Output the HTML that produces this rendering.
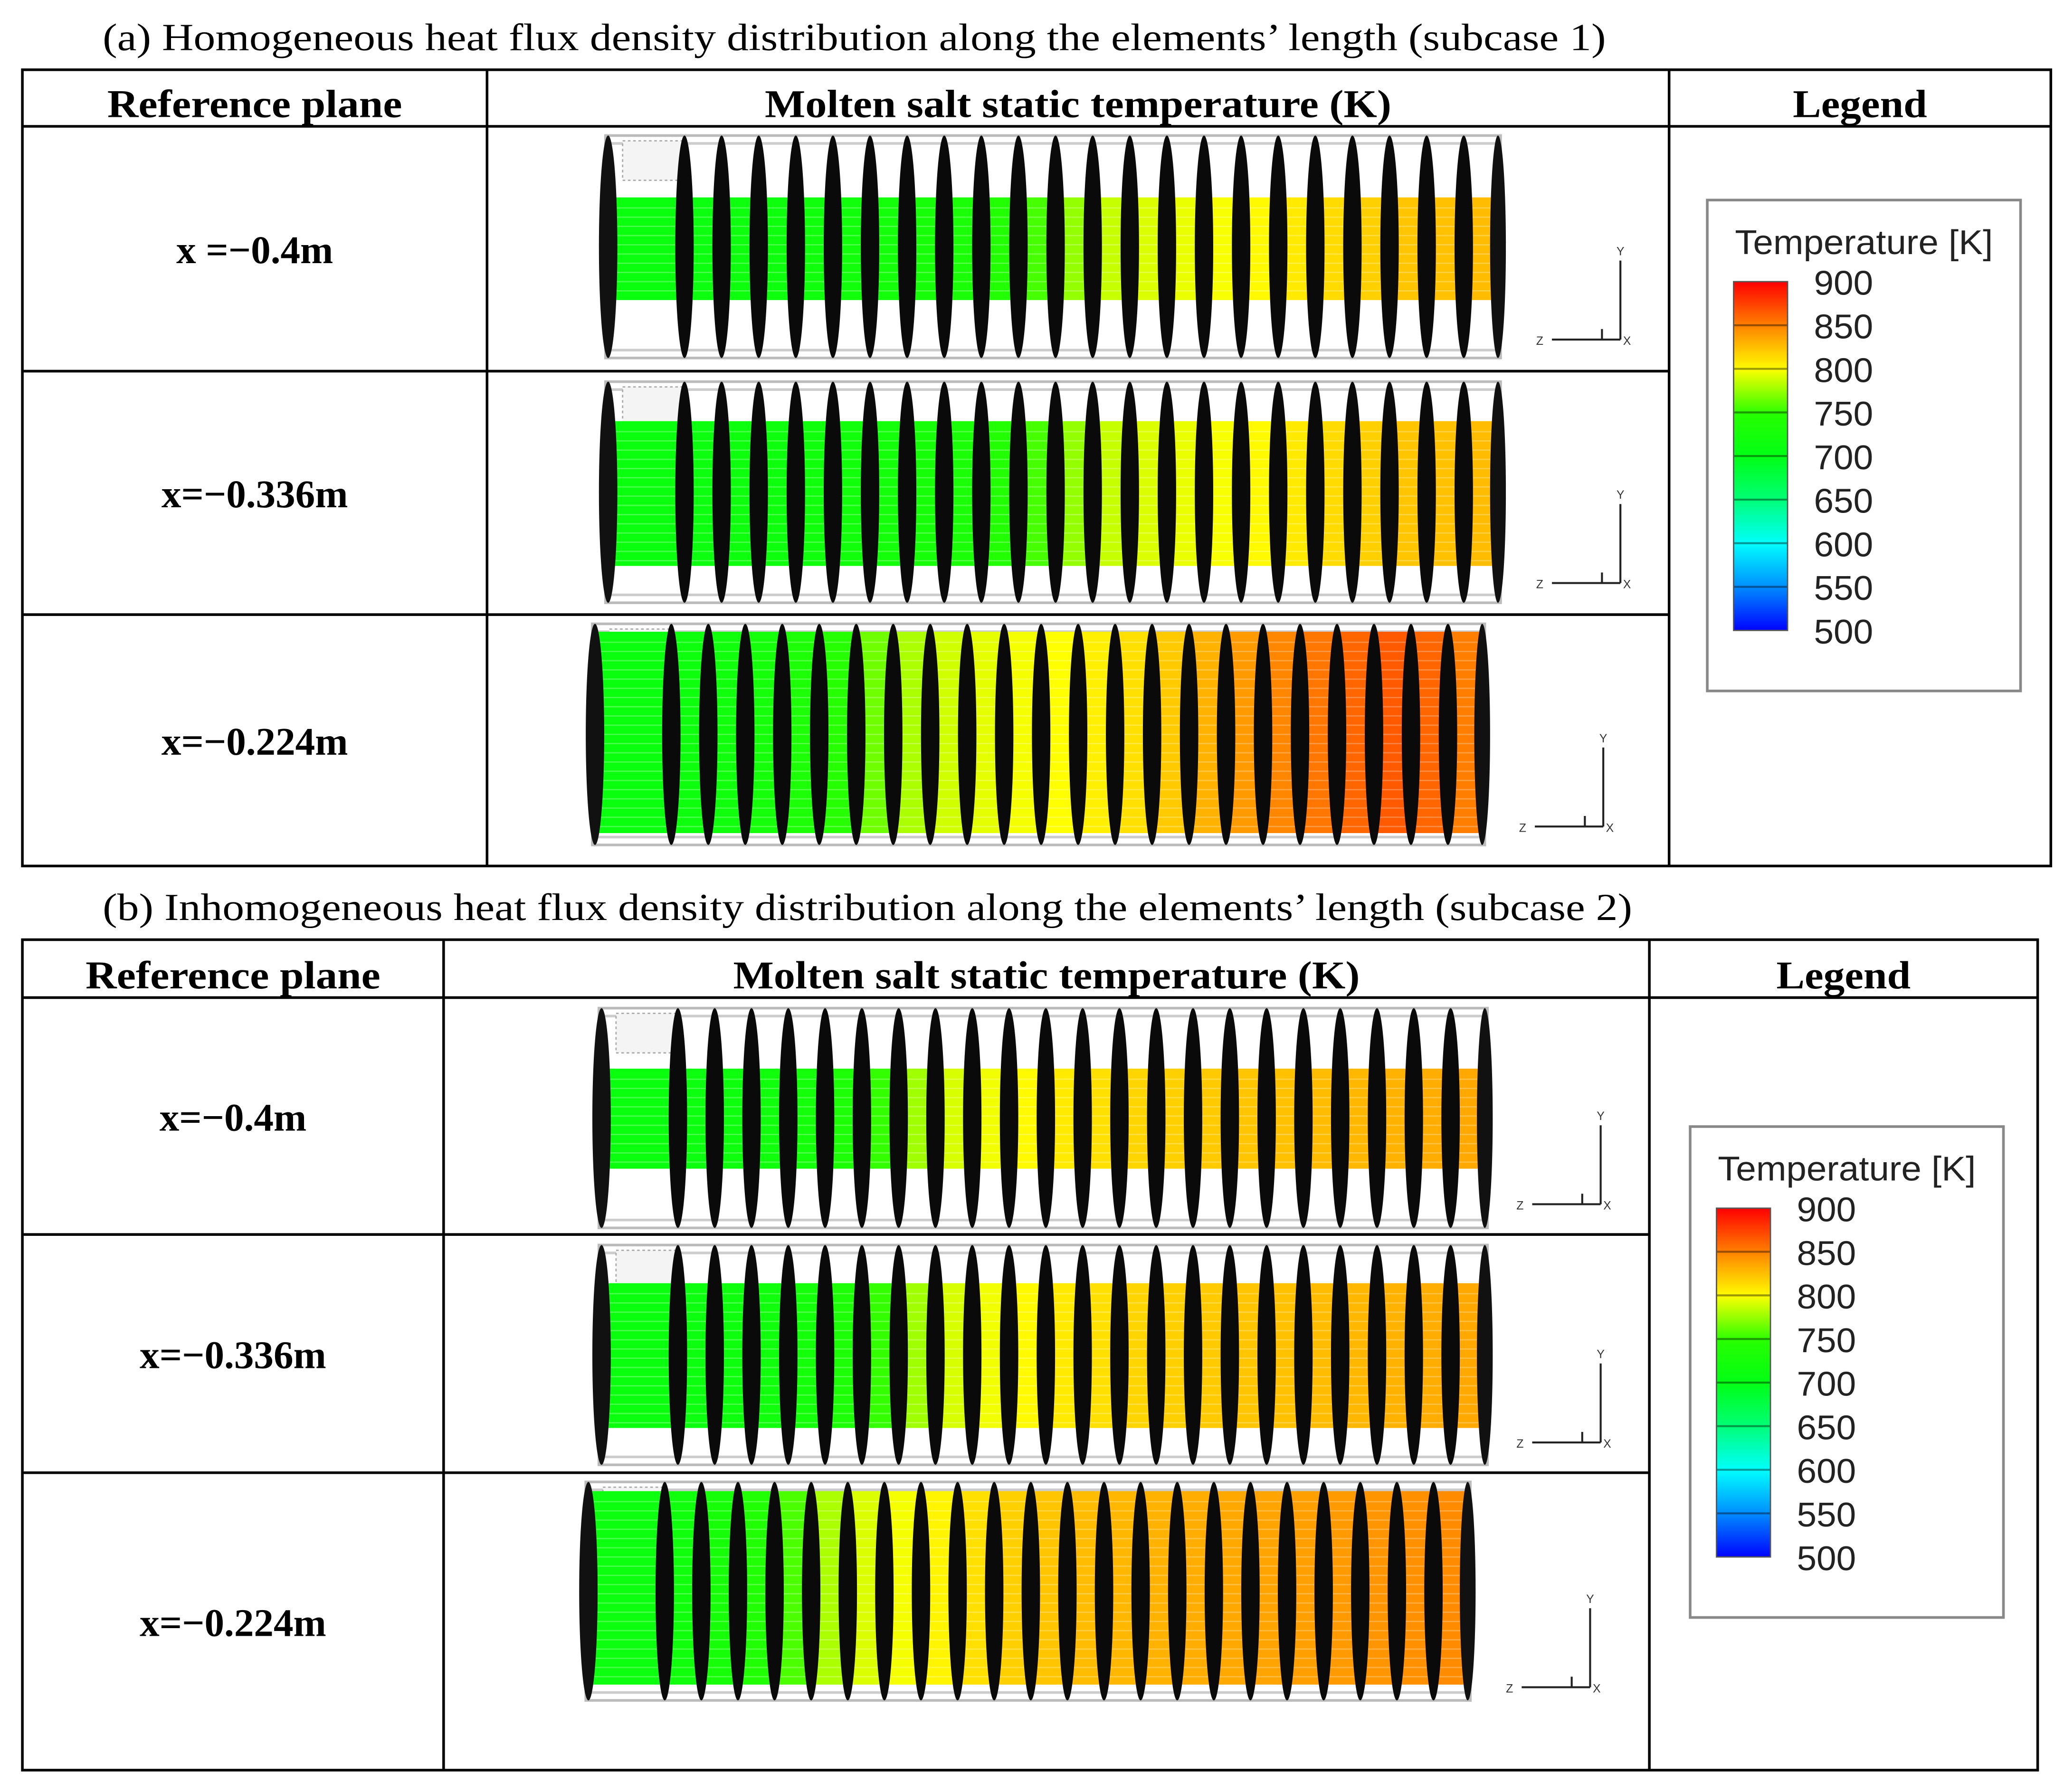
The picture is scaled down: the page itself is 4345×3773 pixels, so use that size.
<!DOCTYPE html>
<html><head><meta charset="utf-8"><style>
html,body{margin:0;padding:0;background:#fff}
svg{display:block}
.cap{font-family:"Liberation Serif",serif;font-size:29px;fill:#000}
.hd{font-family:"Liberation Serif",serif;font-size:30px;font-weight:bold;fill:#000}
.rl{font-family:"Liberation Serif",serif;font-size:30px;font-weight:bold;fill:#000}
.lg{font-family:"Liberation Sans",sans-serif;font-size:26px;fill:#222}
.tr{font-family:"Liberation Sans",sans-serif;font-size:9px;fill:#333}
</style></head><body>
<svg id="fig" width="4345" height="3773" viewBox="0 0 1568 1361.6" preserveAspectRatio="none" xmlns="http://www.w3.org/2000/svg">
<text class="cap" x="78" y="38" textLength="1142" lengthAdjust="spacingAndGlyphs">(a)   Homogeneous heat flux density distribution along the elements’ length (subcase 1)</text>
<text class="cap" x="78" y="699" textLength="1162" lengthAdjust="spacingAndGlyphs">(b)   Inhomogeneous heat flux density distribution along the elements’ length (subcase 2)</text>
<g id="tables"></g>
<g id="panels"></g>
<g id="legends"></g>
</svg>
<script>
// temperature per segment (23 segments, left to right), K
const tempsA1 = [712,714,716,718,720,722,725,728,733,742,755,768,778,786,792,797,802,808,814,818,822,824,826];
const tempsA2 = [712,714,716,718,720,722,725,728,733,742,755,768,778,786,792,797,802,808,814,818,822,824,826];
const tempsA3 = [712,716,720,726,735,748,762,772,782,790,796,800,806,812,820,830,840,848,856,864,870,864,852];
const tempsB1 = [712,714,716,720,725,735,752,770,785,795,802,808,812,816,818,820,822,824,826,828,830,832,834];
const tempsB2 = [712,714,716,720,725,735,752,770,785,795,802,808,812,816,818,820,822,824,826,828,830,832,834];
const tempsB3 = [714,720,728,740,756,772,786,796,804,812,818,822,826,828,830,832,834,836,838,840,842,844,846];
const legendTicks = ["900","850","800","750","700","650","600","550","500"];

const NS="http://www.w3.org/2000/svg";
function mk(tag, attrs, parent){const e=document.createElementNS(NS,tag);for(const k in attrs)e.setAttribute(k,attrs[k]);parent.appendChild(e);return e;}
const stops=[[500,[0,0,255]],[550,[0,140,255]],[600,[0,255,255]],[650,[0,255,120]],[700,[0,255,20]],[750,[40,255,0]],[775,[190,255,0]],[800,[255,255,0]],[825,[255,190,0]],[850,[255,130,0]],[875,[255,80,0]],[900,[255,0,0]]];
function cmap(t){t=Math.max(500,Math.min(900,t));for(let i=0;i<stops.length-1;i++){const a=stops[i],b=stops[i+1];if(t<=b[0]){const f=(t-a[0])/(b[0]-a[0]);const c=a[1].map((v,j)=>Math.round(v+(b[1][j]-v)*f));return `rgb(${c})`;}}return "rgb(255,0,0)";}

const tg=document.getElementById('tables');
function table(x0,x1,y0,y1,hy,c1,c2,rows,labels,tag){
  const g=mk('g',{},tg);
  
  
  mk('rect',{x:x0,y:y0,width:x1-x0,height:y1-y0,fill:'none',stroke:'#000','stroke-width':2},g);
  mk('line',{x1:x0,x2:x1,y1:hy,y2:hy,stroke:'#000','stroke-width':2},g);
  mk('line',{x1:c1,x2:c1,y1:y0,y2:y1,stroke:'#000','stroke-width':2},g);
  mk('line',{x1:c2,x2:c2,y1:y0,y2:y1,stroke:'#000','stroke-width':2},g);
  for(let i=1;i<rows.length-1;i++) mk('line',{x1:x0,x2:c2,y1:rows[i],y2:rows[i],stroke:'#000','stroke-width':2},g);
  const hs=[['Reference plane',(x0+c1)/2,'header-reference-plane',224],['Molten salt static temperature (K)',(c1+c2)/2,'header-temperature',476],['Legend',(c2+x1)/2,'header-legend',102]];
  hs.forEach(h=>{const t=mk('text',{class:'hd',x:h[1],y:hy-7,'text-anchor':'middle',textLength:h[3],lengthAdjust:'spacingAndGlyphs'},g);t.textContent=h[0];
    
    });
  labels.forEach((l,i)=>{const t=mk('text',{class:'rl',x:(x0+c1)/2,y:(rows[i]+rows[i+1])/2+11,'text-anchor':'middle'},g);t.textContent=l;
    
    });
}
table(17,1558,53,658,96,370,1268,[96,282,467,658],['x =\u22120.4m','x=\u22120.336m','x=\u22120.224m'],'a');
table(17,1548,714,1345,758,337,1253,[758,938,1119,1345],['x=\u22120.4m','x=\u22120.336m','x=\u22120.224m'],'b');

const pg=document.getElementById('panels');
function panel(x0,x1,y0,y1,b0,b1,temps,tx,ty,name){
  const g=mk('g',{},pg);
  
  
  mk('rect',{x:x0+5,y:y0,width:x1-x0-10,height:y1-y0,fill:'none',stroke:'#bbb','stroke-width':2},g);
  mk('line',{x1:x0+5,x2:x1-5,y1:y0+6,y2:y0+6,stroke:'#ccc','stroke-width':2},g);
  mk('line',{x1:x0+5,x2:x1-5,y1:y1-6,y2:y1-6,stroke:'#ccc','stroke-width':2},g);
  mk('rect',{x:x0+18,y:y0+4,width:48,height:30,fill:'#f4f4f4',stroke:'#aaa','stroke-width':1,'stroke-dasharray':'2 2'},g);
  const n=22, dA=x0+65, dB=x1-33, step=(dB-dA)/(n-1);
  const bounds=[x0+7];for(let i=0;i<n;i++)bounds.push(dA+i*step);bounds.push(x1-7);
  temps.forEach((t,i)=>{const r=mk('rect',{x:bounds[i],y:b0,width:bounds[i+1]-bounds[i]+0.5,height:b1-b0,fill:cmap(t)},g);
    
    });
  for(let y=b0+8;y<b1;y+=7) mk('line',{x1:x0+7,x2:x1-7,y1:y,y2:y,stroke:'#fff','stroke-opacity':0.25,'stroke-width':1},g);
  const hh=(y1-y0)/2, cy=(y0+y1)/2;
  mk('ellipse',{cx:x0+7,cy:cy,rx:7,ry:hh,fill:'#111'},g);
  mk('ellipse',{cx:x1-7,cy:cy,rx:6,ry:hh,fill:'#111'},g);
  for(let i=0;i<n;i++){const e=mk('ellipse',{cx:dA+i*step,cy:cy,rx:7,ry:hh,fill:'#0a0a0a'},g);
    
    }
  const a=mk('g',{},g);
  
  
  mk('line',{x1:tx,x2:tx,y1:ty-60,y2:ty,stroke:'#222','stroke-width':1.5},a);
  mk('line',{x1:tx-52,x2:tx,y1:ty,y2:ty,stroke:'#222','stroke-width':1.5},a);
  mk('line',{x1:tx-14,x2:tx-14,y1:ty-8,y2:ty,stroke:'#222','stroke-width':1.5},a);
  const t1=mk('text',{class:'tr',x:tx-3,y:ty-64},a);t1.textContent='Y';
  const t2=mk('text',{class:'tr',x:tx-64,y:ty+4},a);t2.textContent='Z';
  const t3=mk('text',{class:'tr',x:tx+2,y:ty+4},a);t3.textContent='X';
}
panel(455,1145,103,272,150,228,tempsA1,1231,258,'contour-a-x-0.4');
panel(455,1145,290,458,320,430,tempsA2,1231,443,'contour-a-x-0.336');
panel(445,1133,474,642,480,633,tempsA3,1218,628,'contour-a-x-0.224');
panel(450,1135,766,933,812,888,tempsB1,1216,915,'contour-b-x-0.4');
panel(450,1135,946,1113,975,1085,tempsB2,1216,1096,'contour-b-x-0.336');
panel(440,1122,1126,1292,1133,1280,tempsB3,1208,1282,'contour-b-x-0.224');

const lg=document.getElementById('legends');
function legend(bx,by,name){
  const g=mk('g',{},lg);
  
  
  mk('rect',{x:bx,y:by,width:238,height:373,fill:'#fff',stroke:'#888','stroke-width':2},g);
  const tt=mk('text',{class:'lg',x:bx+21,y:by+41,textLength:196,lengthAdjust:'spacingAndGlyphs'},g);tt.textContent='Temperature [K]';
  const cx=bx+20, cy=by+62, w=41, h=265;
  const N=legendTicks.length-1;
  for(let i=0;i<N;i++){
    const tHi=+legendTicks[i], tLo=+legendTicks[i+1];
    const id=name+'g'+i;
    const gr=mk('linearGradient',{id:id,x1:0,y1:0,x2:0,y2:1},g);
    mk('stop',{offset:0,'stop-color':cmap(tHi)},gr);
    mk('stop',{offset:1,'stop-color':cmap(tLo+1)},gr);
    mk('rect',{x:cx,y:cy+i*h/N,width:w,height:h/N+0.3,fill:`url(#${id})`},g);
    if(i>0) mk('line',{x1:cx,x2:cx+w,y1:cy+i*h/N,y2:cy+i*h/N,stroke:'#000','stroke-opacity':0.4,'stroke-width':1.5},g);
  }
  mk('rect',{x:cx,y:cy,width:w,height:h,fill:'none',stroke:'#555','stroke-width':1},g);
  legendTicks.forEach((l,i)=>{const t=mk('text',{class:'lg',x:cx+61,y:cy+i*h/N+10,textLength:45,lengthAdjust:'spacingAndGlyphs'},g);t.textContent=l;
    
    });
}
legend(1297,152,'legend-a');
legend(1284,856,'legend-b');
</script>
</body></html>
